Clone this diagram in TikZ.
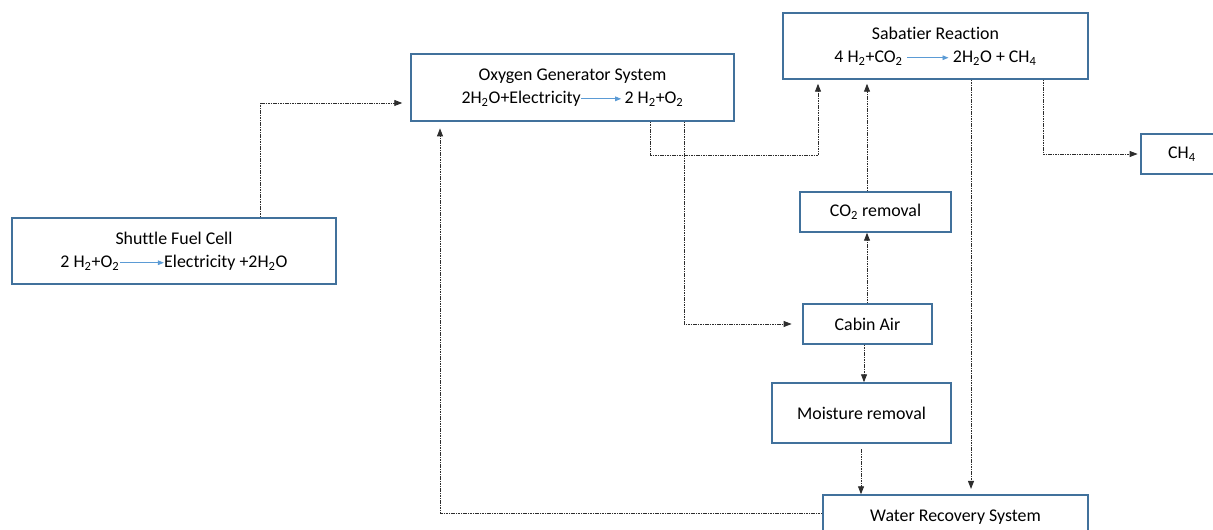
\documentclass[tikz,border=0pt]{standalone}
\usepackage{fontspec}
\setmainfont{Carlito}[Ligatures=NoCommon]
\usetikzlibrary{arrows.meta}
\definecolor{boxblue}{RGB}{65,113,156}
\definecolor{rxnblue}{RGB}{91,155,213}
\definecolor{flowgray}{RGB}{45,45,45}
\tikzset{
  unit/.style={draw=boxblue, line width=1.1pt, align=center, inner sep=0pt,
    font=\fontsize{13.4}{17.5}\selectfont},
  sized/.style 2 args={minimum width=#1*0.75pt, minimum height=#2*0.75pt},
  flow/.style={-{Triangle[length=6pt,width=4.5pt]}, draw=flowgray, line width=0.7pt,
    dash pattern=on 1.2pt off 0.6pt},
}
\newcommand{\yields}[1]{\tikz[baseline=-0.55ex]\draw[-{Triangle[length=4.5pt,width=3.5pt]}, rxnblue, line width=0.6pt] (0pt,0pt) -- (#1,0pt);}

\begin{document}
\begin{tikzpicture}[x=0.75pt, y=-0.75pt]
\useasboundingbox (0,0) rectangle (1213,530);

\coordinate (fcx) at (260,103);
\coordinate (oxa) at (650,155);
\coordinate (sba) at (818,155);
\coordinate (oxb) at (684,324);
\coordinate (cax) at (867,0);
\coordinate (mox) at (864,0);
\coordinate (mwx) at (861,0);
\coordinate (swx) at (971,0);
\coordinate (scx) at (1043,155);
\coordinate (wrx) at (440,513);

\node[unit, sized={323}{67}] (oxy) at (572.5,87.5)
  {Oxygen Generator System\\2H\textsubscript{2}O+Electricity\yields{30pt}\,2 H\textsubscript{2}+O\textsubscript{2}};
\node[unit, sized={305}{66}] (sab) at (935.5,46)
  {Sabatier Reaction\\4 H\textsubscript{2}+CO\textsubscript{2} \yields{31pt} 2H\textsubscript{2}O + CH\textsubscript{4}};
\node[unit, sized={82}{40}] (ch4) at (1182,154) {CH\textsubscript{4}};
\node[unit, sized={324}{66}] (fuel) at (174,251)
  {Shuttle Fuel Cell\\2 H\textsubscript{2}+O\textsubscript{2}\yields{33pt}Electricity +2H\textsubscript{2}O};
\node[unit, sized={151}{40}] (co2) at (875.5,212) {CO\textsubscript{2} removal};
\node[unit, sized={129}{40}] (cabin) at (867.5,324) {Cabin Air};
\node[unit, sized={179}{60}] (moist) at (861.5,413) {Moisture removal};
\node[unit, sized={265}{44}] (water) at (955.5,517) {Water Recovery System};

\draw[flow, shorten >=6pt] (fuel.north -| fcx) |- (oxy.west |- fcx);
\draw[flow, shorten >=3pt] (oxy.south -| oxa) |- (sba) -- (sab.south -| sba);
\draw[flow, shorten >=8pt] (oxy.south -| oxb) |- (cabin.west);
\draw[flow] (cabin.north -| cax) -- (co2.south -| cax);
\draw[flow, shorten >=3pt] (co2.north -| cax) -- (sab.south -| cax);
\draw[flow, shorten >=4pt] (sab.south -| swx) -- (water.north -| swx);
\draw[flow, shorten >=2pt] (sab.south -| scx) |- (ch4.west);
\draw[flow] (cabin.south -| mox) -- (moist.north -| mox);
\draw[flow, shorten <=4pt] (moist.south -| mwx) -- (water.north -| mwx);
\draw[flow, shorten >=5pt] (water.west |- wrx) -| (oxy.south -| wrx);
\end{tikzpicture}
\end{document}
